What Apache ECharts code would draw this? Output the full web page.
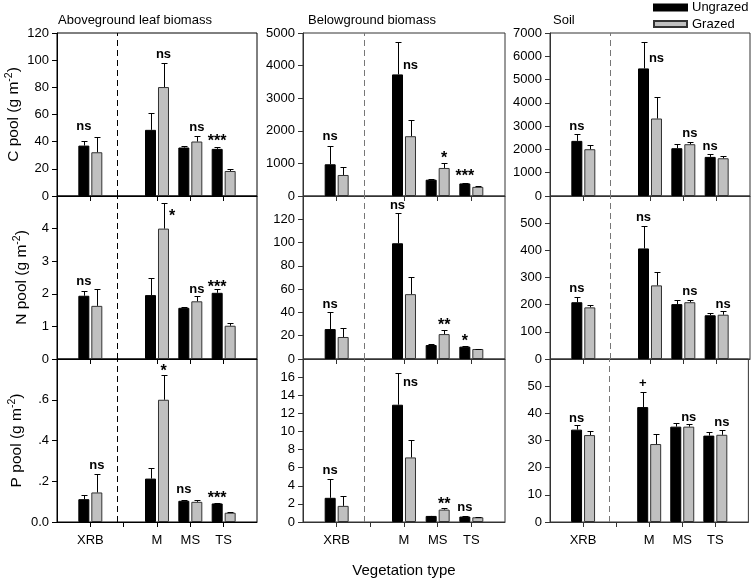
<!DOCTYPE html>
<html><head><meta charset="utf-8">
<script src="https://cdn.jsdelivr.net/npm/echarts@6/dist/echarts.min.js"></script>
<style>html,body{margin:0;padding:0;background:#fff}#c{width:755px;height:580px}</style>
</head><body><div id="c"></div><script>
// ---------- data ----------
const categories = ['', 'XRB', ' ', 'M', 'MS', 'TS', '  '];
const vegTypes = ['XRB', 'M', 'MS', 'TS'];
const columnTitles = ['Aboveground leaf biomass', 'Belowground biomass', 'Soil'];
const rowNames = ['C pool (g m', 'N pool (g m', 'P pool (g m'];
const seriesNames = ['Ungrazed', 'Grazed'];

// C pool
const cLeafU = [37.1, 48.7, 35.7, 34.7],   cLeafUSE = [3.7, 12.3, 1.2, 1.4];
const cLeafG = [32.2, 80.2, 40.1, 18.4],   cLeafGSE = [11.1, 17.8, 3.9, 1.3];
const cLeafSig = ['ns', 'ns', 'ns', '***'], cLeafSigOver = ['U', 'G', 'G', 'U'], cLeafSigAt = [52, 105, 51, 42.5];
const cRootU = [973, 3730, 500, 385],       cRootUSE = [554, 993, 25, 20];
const cRootG = [645, 1834, 860, 280],       cRootGSE = [257, 502, 140, 20];
const cRootSig = ['ns', 'ns', '*', '***'],  cRootSigOver = ['U', 'G', 'G', 'U'], cRootSigAt = [1855, 4047, 1240, 697];
const cSoilU = [2367, 5480, 2052, 1679],    cSoilUSE = [316, 1134, 172, 114];
const cSoilG = [2009, 3328, 2224, 1621],    cSoilGSE = [201, 904, 115, 115];
const cSoilSig = ['ns', 'ns', 'ns', 'ns'],  cSoilSigOver = ['U', 'G', 'G', 'U'], cSoilSigAt = [3013, 5954, 2726, 2152];
// N pool
const nLeafU = [1.94, 1.96, 1.57, 2.03],    nLeafUSE = [0.16, 0.54, 0.03, 0.11];
const nLeafG = [1.63, 4.0, 1.77, 1.02],     nLeafGSE = [0.52, 0.78, 0.15, 0.07];
const nLeafSig = ['ns', '*', 'ns', '***'],  nLeafSigOver = ['U', 'R', 'G', 'U'], nLeafSigAt = [2.41, 4.47, 2.18, 2.31];
const nRootU = [25.7, 99.4, 12, 10.6],      nRootUSE = [14.3, 26.3, 0.6, 0.5];
const nRootG = [18.9, 55.7, 21.4, 8.6],     nRootGSE = [7.4, 14.9, 3.5, 0.3];
const nRootSig = ['ns', 'ns', '**', '*'],   nRootSigOver = ['U', 'U', 'G', 'U'], nRootSigAt = [48, 132.6, 31.4, 18];
const nSoilU = [209, 407, 202, 161],        nSoilUSE = [21, 82, 14, 10];
const nSoilG = [190, 271, 209, 163],        nSoilGSE = [10, 51, 9, 12];
const nSoilSig = ['ns', 'ns', 'ns', 'ns'],  nSoilSigOver = ['U', 'U', 'G', 'G'], nSoilSigAt = [263, 523, 251, 205];
// P pool
const pLeafU = [0.112, 0.213, 0.104, 0.091], pLeafUSE = [0.021, 0.054, 0.003, 0.003];
const pLeafG = [0.145, 0.6, 0.099, 0.0455],  pLeafGSE = [0.092, 0.122, 0.008, 0.0035];
const pLeafSig = ['ns', '*', 'ns', '***'],   pLeafSigOver = ['G', 'G', 'U', 'U'], pLeafSigAt = [0.283, 0.756, 0.166, 0.13];
const pRootU = [2.67, 12.95, 0.67, 0.6],     pRootUSE = [2.08, 3.45, 0.03, 0.03];
const pRootG = [1.78, 7.13, 1.37, 0.52],     pRootGSE = [1.08, 1.97, 0.15, 0.04];
const pRootSig = ['ns', 'ns', '**', 'ns'],   pRootSigOver = ['U', 'G', 'G', 'U'], pRootSigAt = [5.8, 15.5, 2.26, 1.67];
const pSoilU = [34, 42.3, 35.1, 31.8],       pSoilUSE = [1.6, 5.7, 1.3, 1.5];
const pSoilG = [32, 28.7, 35.1, 32.1],       pSoilGSE = [1.5, 3.8, 1.1, 1.9];
const pSoilSig = ['ns', '+', 'ns', 'ns'],    pSoilSigOver = ['U', 'U', 'G', 'G'], pSoilSigAt = [38.6, 50.9, 38.8, 36.9];

// y axis ticks: [row][col]
const yAxisMax  = [[120, 5000, 7000], [5, 140, 600], [0.8, 18, 60]];
const yAxisStep = [[20, 1000, 1000], [1, 20, 100], [0.2, 2, 10]];

// ---------- layout / style ----------
const FONT = 'Liberation Sans, Arial, sans-serif';
const colLeft = [57, 303, 550], colWidth = [200, 202, 200];
const rowTop = [33, 196, 359], rowHeight = 163;
const axisColor = ['#000', '#333', '#333'];
const dashColor = ['#000', '#777', '#777'];
const sigShift = { U: -6.5, G: 6.5, R: 15 };

const panels = [
  [cLeafU, cLeafUSE, cLeafG, cLeafGSE, cLeafSig, cLeafSigOver, cLeafSigAt],
  [cRootU, cRootUSE, cRootG, cRootGSE, cRootSig, cRootSigOver, cRootSigAt],
  [cSoilU, cSoilUSE, cSoilG, cSoilGSE, cSoilSig, cSoilSigOver, cSoilSigAt],
  [nLeafU, nLeafUSE, nLeafG, nLeafGSE, nLeafSig, nLeafSigOver, nLeafSigAt],
  [nRootU, nRootUSE, nRootG, nRootGSE, nRootSig, nRootSigOver, nRootSigAt],
  [nSoilU, nSoilUSE, nSoilG, nSoilGSE, nSoilSig, nSoilSigOver, nSoilSigAt],
  [pLeafU, pLeafUSE, pLeafG, pLeafGSE, pLeafSig, pLeafSigOver, pLeafSigAt],
  [pRootU, pRootUSE, pRootG, pRootGSE, pRootSig, pRootSigOver, pRootSigAt],
  [pSoilU, pSoilUSE, pSoilG, pSoilGSE, pSoilSig, pSoilSigOver, pSoilSigAt]
];

function slot(arr) {
  return categories.map(c => { const k = vegTypes.indexOf(c); return k < 0 ? '-' : arr[k]; });
}
function errData(mean, se) {
  return vegTypes.map((v, k) => [categories.indexOf(v), mean[k], mean[k] + se[k]]);
}
function errRender(offset) {
  return function (params, api) {
    const x = api.value(0), m = api.value(1), t = api.value(2);
    const p0 = api.coord([x, m]), p1 = api.coord([x, t]);
    const cx = Math.round(p0[0] + offset) + 0.5;
    const ty = Math.round(p1[1]) + 0.5;
    return { type: 'group', children: [
      { type: 'line', shape: { x1: cx, y1: p0[1], x2: cx, y2: ty }, style: { stroke: '#000', lineWidth: 1 } },
      { type: 'line', shape: { x1: cx - 3, y1: ty, x2: cx + 3, y2: ty }, style: { stroke: '#000', lineWidth: 1 } }
    ]};
  };
}

const grids = [], xAxes = [], yAxes = [], series = [];
panels.forEach((p, i) => {
  const row = Math.floor(i / 3), col = i % 3;
  const [U, USE, G, GSE, sig, over, at] = p;
  const max = yAxisMax[row][col], step = yAxisStep[row][col];
  const isPLeaf = row === 2 && col === 0;
  grids.push({ left: colLeft[col], top: rowTop[row], width: colWidth[col], height: rowHeight,
    show: true, borderColor: axisColor[col], borderWidth: 1, backgroundColor: 'transparent' });
  xAxes.push({
    gridIndex: i, type: 'category', data: categories, boundaryGap: false,
    axisLine: { show: true, lineStyle: { color: axisColor[col], width: 1 } },
    axisTick: { show: true, inside: false, length: 5, lineStyle: { color: axisColor[col] },
      interval: (idx, val) => row === 2 ? (val !== '' && val !== '  ') : val.trim() !== '' },
    axisLabel: { show: row === 2, interval: 0, margin: 12, fontSize: 13, color: '#000', fontFamily: FONT },
    splitLine: { show: false },
    name: (row === 2 && col === 1) ? 'Vegetation type' : '',
    nameLocation: 'middle', nameGap: 41,
    nameTextStyle: { fontSize: 15, color: '#000', fontFamily: FONT }
  });
  yAxes.push({
    gridIndex: i, type: 'value', min: 0, max: max, interval: step,
    axisLine: { show: true, lineStyle: { color: axisColor[col], width: 1 } },
    axisTick: { show: true, inside: false, length: 5, lineStyle: { color: axisColor[col] } },
    splitLine: { show: false },
    axisLabel: { margin: 8, fontSize: 13, color: '#000', fontFamily: FONT,
      formatter: v => {
        if (row > 0 && Math.abs(v - max) < 1e-9) return '';
        if (isPLeaf) return Math.abs(v) < 1e-9 ? '0.0' : '.' + Math.round(v * 10);
        return String(Math.round(v * 1000) / 1000);
      } },
    name: col === 0 ? rowNames[row] + '{sup|-2})' : '',
    nameLocation: 'middle', nameGap: 25, nameRotate: 90,
    nameTextStyle: { fontSize: 15.5, color: '#000', fontFamily: FONT, lineHeight: 20,
      rich: { sup: { fontSize: 10.5, verticalAlign: 'top', lineHeight: 20, color: '#000', fontFamily: FONT } } }
  });
  series.push({
    name: seriesNames[0], type: 'bar', xAxisIndex: i, yAxisIndex: i, data: slot(U),
    barWidth: 11, barGap: '18%', z: 2,
    itemStyle: { color: '#000', borderColor: '#000', borderWidth: 1 },
    markLine: { silent: true, symbol: ['none', 'none'], label: { show: false },
      lineStyle: { type: [6, 4], color: dashColor[col], width: 1 }, data: [{ xAxis: 2 }] }
  });
  series.push({
    name: seriesNames[1], type: 'bar', xAxisIndex: i, yAxisIndex: i, data: slot(G),
    barWidth: 11, barGap: '18%', z: 2,
    itemStyle: { color: '#c0c0c0', borderColor: '#333', borderWidth: 1 }
  });
  series.push({ type: 'custom', xAxisIndex: i, yAxisIndex: i, z: 3, silent: true,
    renderItem: errRender(sigShift.U), data: errData(U, USE) });
  series.push({ type: 'custom', xAxisIndex: i, yAxisIndex: i, z: 3, silent: true,
    renderItem: errRender(sigShift.G), data: errData(G, GSE) });
  series.push({ type: 'custom', xAxisIndex: i, yAxisIndex: i, z: 4, silent: true,
    data: vegTypes.map((v, k) => [categories.indexOf(v), at[k]]),
    renderItem: (params, api) => {
      const k = params.dataIndex;
      const pt = api.coord([api.value(0), api.value(1)]);
      const txt = sig[k];
      const star = txt.indexOf('*') >= 0;
      const dy = star ? 3.5 : (txt === 'ns' ? 1 : 0);
      return { type: 'text', style: { text: txt, x: pt[0] + sigShift[over[k]], y: pt[1] + dy,
        align: 'center', verticalAlign: 'middle', fontSize: star ? 16 : 13, fontWeight: 'bold', fontFamily: FONT, fill: '#000' } };
    } });
});

const option = {
  animation: false,
  backgroundColor: '#fff',
  textStyle: { fontFamily: FONT },
  title: [
    { text: columnTitles[0], left: 58, top: 14, padding: 0, textStyle: { fontSize: 13, fontWeight: 'normal', color: '#000', fontFamily: FONT } },
    { text: columnTitles[1], left: 308, top: 14, padding: 0, textStyle: { fontSize: 13, fontWeight: 'normal', color: '#000', fontFamily: FONT } },
    { text: columnTitles[2], left: 553, top: 14, padding: 0, textStyle: { fontSize: 13, fontWeight: 'normal', color: '#000', fontFamily: FONT } }
  ],
  legend: { data: seriesNames, orient: 'vertical', left: 653, top: 0, padding: 0,
    itemWidth: 33, itemHeight: 6, itemGap: 1.5, icon: 'rect', selectedMode: false,
    textStyle: { fontSize: 13, color: '#000', lineHeight: 15, fontFamily: FONT } },
  grid: grids, xAxis: xAxes, yAxis: yAxes, series: series
};
const chart = echarts.init(document.getElementById('c'), null, { renderer: 'canvas' });
chart.setOption(option);
</script></body></html>
